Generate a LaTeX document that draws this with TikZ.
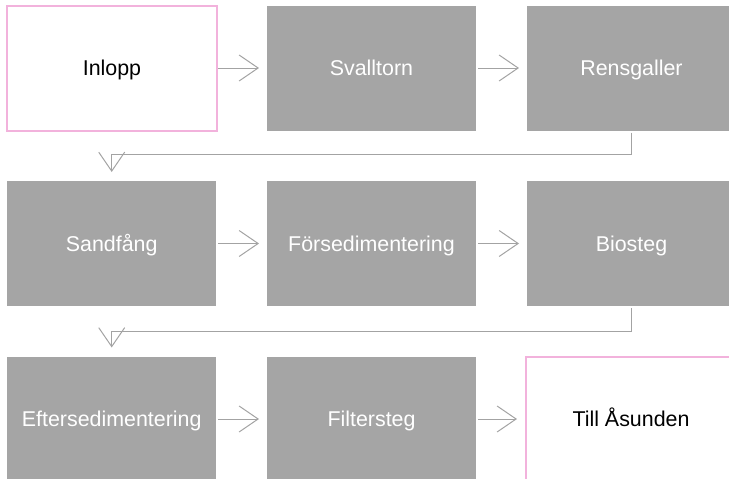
\documentclass[tikz,border=0pt]{standalone}
\usepackage{fontspec}
\setmainfont{Liberation Sans}
\usetikzlibrary{arrows.meta}
\definecolor{boxgray}{HTML}{A5A5A5}
\definecolor{boxpink}{HTML}{F2B2DC}
\definecolor{conngray}{HTML}{A3A3A3}
\tikzset{
  base/.style={rectangle, minimum width=209pt, minimum height=125pt, inner sep=0pt, outer sep=0pt,
    font=\fontsize{21.4}{25}\selectfont, text height=15.3pt, text depth=0pt},
  graybox/.style={base, fill=boxgray, text=white},
  pinkbox/.style={base, minimum width=210pt, minimum height=125pt, draw=boxpink, line width=2pt, fill=white, text=black},
  conn/.style={draw=conngray, line width=1pt, -{Straight Barb[length=19pt,width=26pt,line width=1pt]}},
}
\begin{document}
\begin{tikzpicture}[x=1pt,y=-1pt]
\useasboundingbox (0,0) rectangle (729,479);
\clip (0,0) rectangle (729,479);
% row 1
\node[pinkbox] (inl) at (112,68) {Inlopp};
\node[graybox] (sva) at (371.5,68) {Svalltorn};
\node[graybox] (ren) at (631.5,68) {Rensgaller};
% row 2
\node[graybox] (san) at (111.7,243.5) {Sandfång};
\node[graybox] (for) at (371.5,243.5) {Försedimentering};
\node[graybox] (bio) at (631.5,243.5) {Biosteg};
% row 3
\node[graybox] (eft) at (111.7,419) {Eftersedimentering};
\node[graybox] (fil) at (371.5,419) {Filtersteg};
\node[pinkbox] (til) at (631,419) {Till Åsunden};
% horizontal connectors
\draw[conn] ([xshift=1pt]inl.east) -- ([xshift=-8pt]sva.west);
\draw[conn] ([xshift=2pt]sva.east) -- ([xshift=-8pt]ren.west);
\draw[conn] ([xshift=2pt]san.east) -- ([xshift=-8pt]for.west);
\draw[conn] ([xshift=2pt]for.east) -- ([xshift=-8pt]bio.west);
\draw[conn] ([xshift=2pt]eft.east) -- ([xshift=-8pt]fil.west);
\draw[conn] ([xshift=2pt]fil.east) -- ([xshift=-9pt]til.west);
% return connectors (yshift is in canvas direction: positive = up)
\draw[conn] ([yshift=-2pt]ren.south) -- ++(0,22) -| ([yshift=9pt]san.north);
\draw[conn] ([yshift=-2pt]bio.south) -- ++(0,23) -| ([yshift=9pt]eft.north);
\end{tikzpicture}
\end{document}
